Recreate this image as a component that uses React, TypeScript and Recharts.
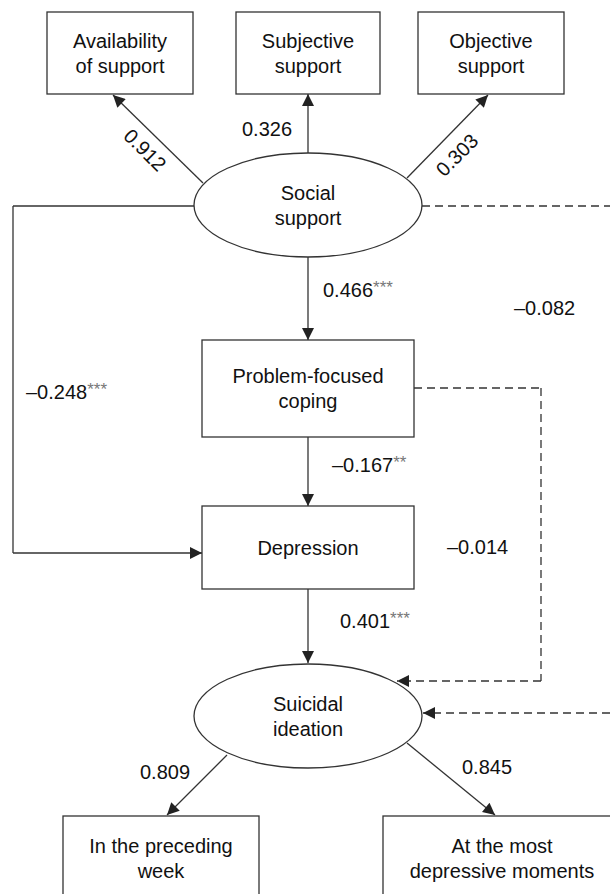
import React from 'react';
import { ScatterChart, Scatter, XAxis, YAxis, ReferenceLine } from 'recharts';

// Node names (each entry = lines of text)
const nodeIds = ['avail', 'subj', 'obj', 'social', 'coping', 'depr', 'suic', 'week', 'most'];
const nodeLabels = [
  ['Availability', 'of support'],
  ['Subjective', 'support'],
  ['Objective', 'support'],
  ['Social', 'support'],
  ['Problem-focused', 'coping'],
  ['Depression'],
  ['Suicidal', 'ideation'],
  ['In the preceding', 'week'],
  ['At the most', 'depressive moments'],
];

// Path coefficients and significance markers
const coefficients = ['0.912', '0.326', '0.303', '0.466', '–0.082', '–0.248', '–0.167', '–0.014', '0.401', '0.809', '0.845'];
const stars = ['', '', '', '***', '', '***', '**', '', '***', '', ''];

// Layout (diagram units = px)
const W = 610;
const H = 894;
const FONT = '"Liberation Sans", Arial, sans-serif';

const nodeLayout: Record<string, { x: number; y: number; w: number; h: number; kind: 'box' | 'oval' }> = {
  avail: { x: 120, y: 53, w: 146, h: 82, kind: 'box' },
  subj: { x: 308, y: 53, w: 144, h: 82, kind: 'box' },
  obj: { x: 491, y: 53, w: 146, h: 82, kind: 'box' },
  social: { x: 308, y: 205, w: 228, h: 104, kind: 'oval' },
  coping: { x: 308, y: 388.5, w: 212, h: 97, kind: 'box' },
  depr: { x: 308, y: 547.5, w: 212, h: 83, kind: 'box' },
  suic: { x: 308, y: 716, w: 228, h: 104, kind: 'oval' },
  week: { x: 161, y: 858, w: 196, h: 84, kind: 'box' },
  most: { x: 502, y: 858, w: 238, h: 84, kind: 'box' },
};

const labelLayout = [
  { x: 145, y: 150, anchor: 'middle', angle: 45 },
  { x: 267, y: 129, anchor: 'middle', angle: 0 },
  { x: 457, y: 155, anchor: 'middle', angle: -45 },
  { x: 323, y: 290, anchor: 'start', angle: 0 },
  { x: 514, y: 308, anchor: 'start', angle: 0 },
  { x: 26, y: 392, anchor: 'start', angle: 0 },
  { x: 332, y: 465, anchor: 'start', angle: 0 },
  { x: 447, y: 547, anchor: 'start', angle: 0 },
  { x: 340, y: 621, anchor: 'start', angle: 0 },
  { x: 165, y: 772, anchor: 'middle', angle: 0 },
  { x: 487, y: 767, anchor: 'middle', angle: 0 },
];

type Pt = [number, number];
const edges: { pts: Pt[]; dashed?: boolean; arrow?: boolean }[] = [
  { pts: [[203, 183], [113, 95]], arrow: true },
  { pts: [[308, 153], [308, 94]], arrow: true },
  { pts: [[407, 178], [488, 95]], arrow: true },
  { pts: [[308, 257], [308, 340]], arrow: true },
  { pts: [[194, 206], [13, 206], [13, 553], [202, 553]], arrow: true },
  { pts: [[422, 206], [610, 206]], dashed: true },
  { pts: [[610, 713], [423, 713]], dashed: true, arrow: true },
  { pts: [[308, 437], [308, 506]], arrow: true },
  { pts: [[414, 388], [541, 388], [541, 681], [397, 681]], dashed: true, arrow: true },
  { pts: [[308, 589], [308, 663]], arrow: true },
  { pts: [[227, 755], [167, 815]], arrow: true },
  { pts: [[407, 743], [495, 815]], arrow: true },
];

const nodeData = nodeIds.map((id, i) => ({ ...nodeLayout[id], id, lines: nodeLabels[i] }));
const labelData = coefficients.map((c, i) => ({ ...labelLayout[i], text: c, stars: stars[i] }));

const NodeShape = (props: any) => {
  const { cx, cy, payload } = props;
  const { w, h, kind, lines } = payload;
  const step = 25;
  const start = cy - ((lines.length - 1) * step) / 2;
  return (
    <g>
      {kind === 'box' ? (
        <rect x={cx - w / 2} y={cy - h / 2} width={w} height={h} fill="#fff" stroke="#333" strokeWidth={1.3} />
      ) : (
        <ellipse cx={cx} cy={cy} rx={w / 2} ry={h / 2} fill="#fff" stroke="#333" strokeWidth={1.3} />
      )}
      {lines.map((t: string, i: number) => (
        <text
          key={i}
          x={cx}
          y={start + i * step}
          textAnchor="middle"
          dominantBaseline="central"
          fontFamily={FONT}
          fontSize={20}
          fill="#111"
        >
          {t}
        </text>
      ))}
    </g>
  );
};

const LabelShape = (props: any) => {
  const { cx, cy, payload } = props;
  return (
    <text
      x={cx}
      y={cy}
      textAnchor={payload.anchor}
      dominantBaseline="central"
      fontFamily={FONT}
      fontSize={20}
      fill="#111"
      transform={payload.angle ? `rotate(${payload.angle} ${cx} ${cy})` : undefined}
    >
      {payload.text}
      {payload.stars && (
        <tspan fontSize={17} fill="#777" dy={-3}>
          {payload.stars}
        </tspan>
      )}
    </text>
  );
};

export default function App() {
  return (
    <div style={{ width: W, height: H, background: '#fff' }}>
      <style>{'body{margin:0}'}</style>
      <ScatterChart width={W} height={H} margin={{ top: 0, right: 0, bottom: 0, left: 0 }}>
        <defs>
          <marker
            id="arrow"
            viewBox="0 0 12 12"
            markerWidth={13}
            markerHeight={12}
            markerUnits="userSpaceOnUse"
            refX={12}
            refY={6}
            orient="auto"
          >
            <path d="M0,0 L12,6 L0,12 z" fill="#222" />
          </marker>
        </defs>
        <XAxis type="number" dataKey="x" domain={[0, W]} hide allowDataOverflow />
        <YAxis type="number" dataKey="y" domain={[0, H]} reversed hide allowDataOverflow />
        {edges.flatMap((e, ei) =>
          e.pts.slice(1).map((p, si) => {
            const a = e.pts[si];
            const last = si === e.pts.length - 2;
            return (
              <ReferenceLine
                key={`e${ei}-${si}`}
                segment={[{ x: a[0], y: a[1] }, { x: p[0], y: p[1] }]}
                stroke="#333"
                strokeWidth={1.3}
                strokeDasharray={e.dashed ? '8 5' : undefined}
                markerEnd={last && e.arrow ? 'url(#arrow)' : undefined}
                ifOverflow="visible"
              />
            );
          })
        )}
        <Scatter data={nodeData} shape={NodeShape} isAnimationActive={false} />
        <Scatter data={labelData} shape={LabelShape} isAnimationActive={false} />
      </ScatterChart>
    </div>
  );
}
